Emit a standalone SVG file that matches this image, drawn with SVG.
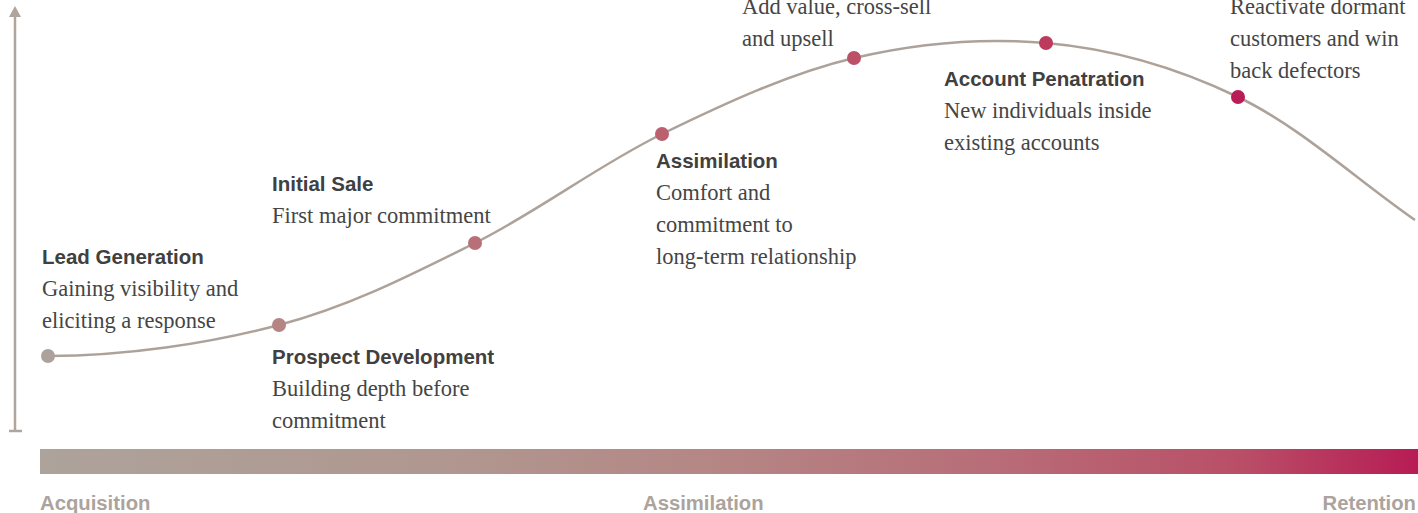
<svg xmlns="http://www.w3.org/2000/svg" width="1418" height="513" viewBox="0 0 1418 513">
  <style>
    .title { font-family: "Liberation Sans", Arial, sans-serif; font-weight: bold; font-size: 20.5px; fill: #404040; }
    .desc { font-family: "Liberation Serif", "Times New Roman", serif; font-size: 22.5px; fill: #454545; }
    .phase { font-family: "Liberation Sans", Arial, sans-serif; font-weight: bold; font-size: 20.3px; fill: #aca39c; }
    .axis { stroke: #b0a59d; stroke-width: 2.5; fill: none; }
    .curve { stroke: #ada29a; stroke-width: 2.5; fill: none; }
  </style>
  <defs>
    <linearGradient id="phaseGradient" x1="0" y1="0" x2="1" y2="0">
      <stop offset="0" stop-color="#ada39b"/>
      <stop offset="0.3" stop-color="#b0978f"/>
      <stop offset="0.5" stop-color="#b58584"/>
      <stop offset="0.7" stop-color="#b86c77"/>
      <stop offset="0.87" stop-color="#b94f67"/>
      <stop offset="1" stop-color="#b71c54"/>
    </linearGradient>
  </defs>

  <!-- vertical axis -->
  <g id="axis">
    <line class="axis" x1="15" y1="16" x2="15" y2="431"/>
    <line class="axis" x1="9" y1="431" x2="22" y2="431"/>
    <polygon points="15,6 9,17 21,17" fill="#b0a59d"/>
  </g>

  <!-- phase bar and labels -->
  <g id="phase-bar">
    <rect x="40" y="449" width="1378" height="25" fill="url(#phaseGradient)"/>
    <text class="phase" x="40" y="510">Acquisition</text>
    <text class="phase" x="643" y="510">Assimilation</text>
    <text class="phase" x="1416" y="510" text-anchor="end">Retention</text>
  </g>

  <!-- lifecycle curve -->
  <g id="connectors">
    <path class="curve" d="M48,356 C125,356 207.8,343.8 279,325 C350.2,306.2 411.2,274.8 475,243 C538.8,211.2 598.8,164.8 662,134 C725.2,103.2 790,73.2 854,58 C918,42.8 982,37.5 1046,43 C1110,48.5 1176.5,67.5 1238,97 C1299.5,126.5 1356,179 1415,220"/>
  </g>

  <g id="lead-generation">
    <circle cx="48" cy="356" r="7" fill="#aca29b"/>
    <text class="title" x="42" y="264">Lead Generation</text>
    <text class="desc" x="42" y="296">Gaining visibility and</text>
    <text class="desc" x="42" y="328">eliciting a response</text>
  </g>

  <g id="prospect-development">
    <circle cx="279" cy="325" r="7" fill="#b78484"/>
    <text class="title" x="272" y="364">Prospect Development</text>
    <text class="desc" x="272" y="396">Building depth before</text>
    <text class="desc" x="272" y="428">commitment</text>
  </g>

  <g id="initial-sale">
    <circle cx="475" cy="243" r="7" fill="#b86f78"/>
    <text class="title" x="272" y="191">Initial Sale</text>
    <text class="desc" x="272" y="223">First major commitment</text>
  </g>

  <g id="assimilation">
    <circle cx="662" cy="134" r="7" fill="#ba606f"/>
    <text class="title" x="656" y="168">Assimilation</text>
    <text class="desc" x="656" y="200">Comfort and</text>
    <text class="desc" x="656" y="232">commitment to</text>
    <text class="desc" x="656" y="264">long-term relationship</text>
  </g>

  <g id="expansion">
    <circle cx="854" cy="58" r="7" fill="#bb5066"/>
    <text class="desc" x="742" y="14">Add value, cross-sell</text>
    <text class="desc" x="742" y="46">and upsell</text>
  </g>

  <g id="account-penetration">
    <circle cx="1046" cy="43" r="7" fill="#bb3a5d"/>
    <text class="title" x="944" y="86">Account Penatration</text>
    <text class="desc" x="944" y="118">New individuals inside</text>
    <text class="desc" x="944" y="150">existing accounts</text>
  </g>

  <g id="reactivation">
    <circle cx="1238" cy="97" r="7" fill="#b81e55"/>
    <text class="desc" x="1230" y="14">Reactivate dormant</text>
    <text class="desc" x="1230" y="46">customers and win</text>
    <text class="desc" x="1230" y="78">back defectors</text>
  </g>
</svg>
